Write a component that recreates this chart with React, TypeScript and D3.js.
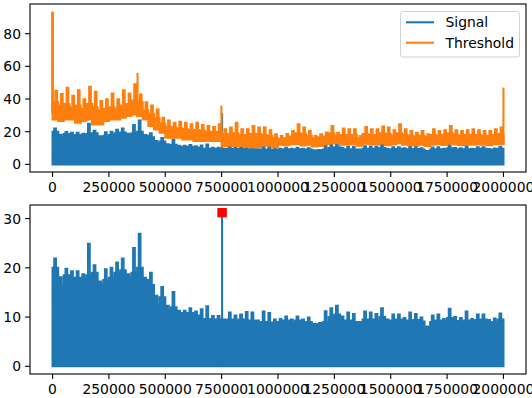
import React from 'react';
import * as d3 from 'd3';

// envelope of the dense traces, one value per 25000 samples
const binStep = 25000;
const xEnd = 2000000;

// highest spike inside each bin
const signalMax = [
  21.9, 18.1, 19.8, 19.3, 19.3, 18.7, 24.9, 20.5, 17.2, 19.7,
  20.0, 21.1, 21.9, 18.7, 24.0, 26.9, 18.0, 19.0, 14.3, 16.1,
  12.3, 15.1, 11.3, 11.3, 11.8, 11.1, 11.6, 12.2, 10.2, 10.2,
  9.5, 10.9, 10.3, 10.5, 11.0, 10.9, 9.3, 11.1, 10.8, 9.5,
  9.6, 10.1, 9.5, 10.1, 9.5, 9.9, 8.6, 8.8, 11.2, 11.8,
  12.3, 10.1, 10.9, 10.6, 9.0, 11.1, 10.9, 10.6, 11.8, 9.5,
  10.5, 10.5, 9.8, 10.9, 10.6, 9.9, 8.1, 10.3, 10.5, 9.6,
  11.7, 10.0, 9.8, 11.1, 9.6, 10.5, 10.5, 9.4, 9.7, 10.7,
];

// level the bulk of each bin reaches
const signalBase = [
  20.0, 16.5, 18.5, 18.0, 18.0, 17.8, 18.5, 19.0, 16.5, 17.5,
  18.0, 19.0, 19.5, 18.0, 19.0, 20.0, 17.5, 16.5, 12.5, 14.0,
  11.5, 12.0, 10.8, 10.8, 10.8, 10.3, 9.5, 9.6, 9.5, 9.5,
  9.3, 9.5, 9.3, 9.5, 9.3, 9.3, 8.9, 9.0, 8.9, 8.9,
  9.0, 9.3, 8.9, 9.3, 9.0, 9.0, 8.4, 8.6, 9.0, 10.0,
  10.5, 9.3, 9.3, 9.0, 8.8, 9.5, 9.5, 9.3, 10.0, 9.0,
  9.3, 9.5, 9.3, 9.2, 9.4, 9.1, 8.0, 9.0, 9.3, 9.0,
  9.8, 9.2, 9.0, 9.3, 9.0, 9.4, 9.5, 8.9, 9.0, 9.5,
];

const thresholdHigh = [
  45.0, 43.0, 46.9, 42.0, 45.3, 39.8, 47.5, 44.5, 38.8, 39.8,
  43.3, 39.8, 45.3, 43.3, 49.0, 42.8, 38.0, 36.0, 33.6, 28.5,
  26.9, 25.5, 26.1, 25.5, 24.5, 25.5, 24.1, 23.5, 22.9, 24.5,
  21.4, 22.5, 25.5, 21.4, 21.4, 23.5, 22.5, 22.5, 20.9, 18.4,
  17.3, 18.5, 20.4, 24.5, 22.5, 20.4, 17.3, 18.4, 19.5, 23.5,
  19.4, 22.0, 21.4, 21.4, 17.3, 22.9, 21.4, 21.4, 23.1, 22.5,
  20.9, 24.5, 21.4, 20.4, 19.4, 20.4, 18.4, 21.4, 20.4, 20.9,
  23.5, 20.9, 20.4, 20.9, 21.4, 20.9, 20.4, 20.4, 21.4, 22.5,
];

const thresholdBase = [
  38, 36, 37, 35, 36, 34, 37, 35, 33, 34,
  35, 34, 36, 37, 39, 38, 33, 31, 28, 25,
  23, 22.5, 22, 21.5, 21, 21, 20.5, 20, 20, 20,
  18.5, 18.5, 19, 18, 18, 18.5, 18.5, 18, 17.5, 16,
  15.5, 16, 17, 19, 18.5, 17.5, 16, 16.5, 17, 19,
  17.5, 18, 18, 18, 16, 18.5, 18, 18, 19, 18.5,
  17.5, 19, 18, 17.5, 17, 17.5, 16.5, 18, 17.5, 18,
  19, 18, 17.5, 18, 18, 18, 17.5, 17.5, 18, 18.5,
];

const thresholdLow = [
  27.5, 26.5, 27.5, 27.5, 25.5, 26.5, 27.5, 24.5, 24.5, 26.5,
  27.5, 27.5, 28.6, 29.6, 30.6, 29.6, 27.5, 23.5, 21.4, 19.4,
  16.3, 16.3, 16.3, 15.3, 15.3, 14.3, 14.3, 14.3, 14.3, 14.3,
  11.2, 11.5, 11.2, 11.2, 10.8, 10.5, 10.5, 11.6, 11.4, 10.5,
  12.0, 11.8, 12.3, 12.5, 11.6, 12.0, 11.0, 11.3, 12.4, 12.8,
  13.0, 12.0, 12.5, 12.2, 11.4, 12.6, 12.4, 12.0, 12.8, 11.8,
  12.2, 12.9, 12.0, 11.8, 11.6, 12.0, 11.2, 12.0, 12.3, 11.9,
  12.8, 12.2, 11.9, 12.4, 12.0, 12.2, 12.0, 11.8, 12.3, 12.4,
];

// narrow spikes that stand out of the envelope
const thresholdSpikes = [
  { x: 0, low: 31, high: 93.5 },
  { x: 377000, low: 30, high: 56 },
  { x: 749000, low: 14, high: 36 },
  { x: 2000000, low: 12, high: 47 },
];
const signalSpikes = [{ x: 752000, high: 31.2 }];
const peak = { x: 752000, value: 31.2 };

const xTicks = [0, 250000, 500000, 750000, 1000000, 1250000, 1500000, 1750000, 2000000];
const topYTicks = [0, 20, 40, 60, 80];
const bottomYTicks = [0, 10, 20, 30];

const BLUE = '#1f77b4';
const ORANGE = '#ff7f0e';
const LW = 2.08;
const FONT = '"DejaVu Sans", sans-serif';
const FS = 13.9;

type Pt = { x: number; v: number };

// each bin: bulk level, a narrow spike to the bin maximum, back to bulk
const jagged = (base: number[], peaks: number[], at: number): Pt[] => {
  const pts: Pt[] = [];
  base.forEach((b, i) => {
    const x0 = i * binStep;
    pts.push({ x: x0, v: b });
    pts.push({ x: x0 + binStep * at, v: peaks[i] });
    pts.push({ x: x0 + binStep * (at + 0.3), v: b });
  });
  pts.push({ x: xEnd, v: base[base.length - 1] });
  return pts;
};

const steps = (arr: number[]): Pt[] =>
  arr.map((v, i) => ({ x: i * binStep, v })).concat([{ x: xEnd, v: arr[arr.length - 1] }]);

const pad = (lo: number, hi: number): [number, number] => {
  const m = (hi - lo) * 0.05;
  return [lo - m, hi + m];
};

type PanelProps = {
  top: number;
  bottom: number;
  yMax: number;
  yTicks: number[];
  showThreshold: boolean;
};

const left = 30;
const right = 526;

const Panel = ({ top, bottom, yMax, yTicks, showThreshold }: PanelProps) => {
  const x = d3.scaleLinear().domain(pad(0, xEnd)).range([left, right]);
  const y = d3.scaleLinear().domain(pad(0, yMax)).range([bottom, top]);

  const sigArea = d3
    .area<Pt>()
    .x(d => x(d.x))
    .y0(() => y(0))
    .y1(d => y(d.v))
    .curve(d3.curveStepAfter);

  // threshold band: jagged upper edge, then the stepped lower edge walked back
  const upperPath =
    d3.line<Pt>().x(d => x(d.x)).y(d => y(d.v)).curve(d3.curveStepAfter)(
      jagged(thresholdBase, thresholdHigh, 0.5)
    ) || '';
  const lowerPath =
    d3.line<Pt>().x(d => x(d.x)).y(d => y(d.v)).curve(d3.curveStepBefore)(
      steps(thresholdLow).reverse()
    ) || '';
  const bandPath = upperPath + 'L' + lowerPath.slice(1) + 'Z';

  const clipId = `clip-${top}`;

  return (
    <g>
      <defs>
        <clipPath id={clipId}>
          <rect x={left} y={top} width={right - left} height={bottom - top} />
        </clipPath>
      </defs>
      <g clipPath={`url(#${clipId})`}>
        <path d={sigArea(jagged(signalBase, signalMax, 0.3)) || ''} fill={BLUE} stroke={BLUE} strokeWidth={LW} />
        {signalSpikes.map((s, i) => (
          <line key={i} x1={x(s.x)} x2={x(s.x)} y1={y(0)} y2={y(s.high)} stroke={BLUE} strokeWidth={LW} />
        ))}
        {showThreshold && (
          <g>
            <path d={bandPath} fill={ORANGE} stroke={ORANGE} strokeWidth={LW} />
            {thresholdSpikes.map((s, i) => (
              <line key={i} x1={x(s.x)} x2={x(s.x)} y1={y(s.low)} y2={y(s.high)} stroke={ORANGE} strokeWidth={i === 0 ? 2.8 : LW} />
            ))}
          </g>
        )}
        {!showThreshold && (
          <rect x={x(peak.x) - 4.2} y={y(peak.value) - 4.2} width={8.4} height={8.4} fill="#ff0000" stroke="#ff0000" strokeWidth={1} />
        )}
      </g>
      <rect x={left} y={top} width={right - left} height={bottom - top} fill="none" stroke="#000" strokeWidth={1.1} />
      {xTicks.map(t => (
        <g key={t} transform={`translate(${x(t)},${bottom})`}>
          <line y2={4.9} stroke="#000" strokeWidth={1.1} />
          <text y={19.5} textAnchor="middle" fontFamily={FONT} fontSize={FS} fill="#000">
            {t}
          </text>
        </g>
      ))}
      {yTicks.map(t => (
        <g key={t} transform={`translate(${left},${y(t)})`}>
          <line x2={-4.9} stroke="#000" strokeWidth={1.1} />
          <text x={-9} dy="0.36em" textAnchor="end" fontFamily={FONT} fontSize={FS} fill="#000">
            {t}
          </text>
        </g>
      ))}
    </g>
  );
};

const Legend = () => (
  <g>
    <rect x={400.5} y={11.5} width={119} height={45.5} rx={2.8} fill="#fff" fillOpacity={0.8} stroke="#d0d0d0" strokeWidth={1} />
    {[
      { label: 'Signal', color: BLUE, y: 22.3 },
      { label: 'Threshold', color: ORANGE, y: 42.7 },
    ].map(d => (
      <g key={d.label}>
        <line x1={406} x2={434} y1={d.y} y2={d.y} stroke={d.color} strokeWidth={LW} />
        <text x={445.5} y={d.y} dy="0.36em" fontFamily={FONT} fontSize={FS} fill="#000">
          {d.label}
        </text>
      </g>
    ))}
  </g>
);

export default function App() {
  return (
    <svg width={532} height={398} style={{ position: 'absolute', left: 0, top: 0, background: '#fff' }}>
      <Panel top={4} bottom={172} yMax={93.5} yTicks={topYTicks} showThreshold={true} />
      <Legend />
      <Panel top={205} bottom={374} yMax={31.2} yTicks={bottomYTicks} showThreshold={false} />
    </svg>
  );
}
